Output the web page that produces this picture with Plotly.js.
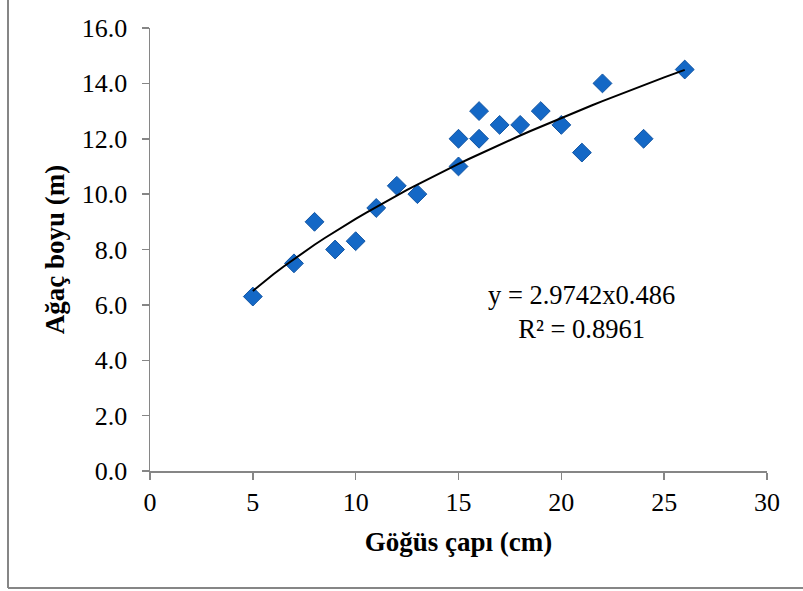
<!DOCTYPE html>
<html>
<head>
<meta charset="utf-8">
<script src="https://cdn.plot.ly/plotly-3.0.1.min.js"></script>
<style>html,body{margin:0;padding:0;background:#fff;}#chart{width:803px;height:591px;}</style>
</head>
<body>
<div id="chart"></div>
<script>
// Data
var diameter = [5, 7, 8, 9, 10, 11, 12, 13, 15, 15, 16, 16, 17, 18, 19, 20, 21, 22, 24, 26];
var height   = [6.3, 7.5, 9.0, 8.0, 8.3, 9.5, 10.3, 10.0, 12.0, 11.0, 13.0, 12.0, 12.5, 12.5, 13.0, 12.5, 11.5, 14.0, 12.0, 14.5];
// Power trendline as printed on the chart: y = a * x^b
var trendA = 2.9742;
var trendB = 0.486;
var trendX = [];
for (var i = 0; i <= 42; i++) trendX.push(5 + i * 0.5);
var trendY = trendX.map(function (x) { return trendA * Math.pow(x, trendB); });

var xTickVals = [0, 5, 10, 15, 20, 25, 30];
var yTickVals = [0, 2, 4, 6, 8, 10, 12, 14, 16];

var font = '"Liberation Serif", "Times New Roman", Times, serif';
var axisColor = '#868686';

var traces = [
  {
    x: diameter, y: height, type: 'scatter', mode: 'markers',
    marker: { symbol: 'diamond', size: 14.5, color: '#1468C6', line: { color: '#1255A3', width: 1 } },
    hoverinfo: 'x+y'
  },
  {
    x: trendX, y: trendY, type: 'scatter', mode: 'lines',
    line: { color: '#000000', width: 2 }, hoverinfo: 'skip'
  }
];

var layout = {
  width: 803, height: 591,
  margin: { l: 150, r: 36, t: 28, b: 120 },
  paper_bgcolor: '#ffffff', plot_bgcolor: '#ffffff',
  showlegend: false,
  font: { family: font, color: '#000000', size: 26 },
  xaxis: {
    range: [0, 30], tickvals: xTickVals, ticktext: xTickVals.map(String),
    showgrid: false, zeroline: false, showline: true, linecolor: axisColor, linewidth: 1.5,
    ticks: 'outside', ticklen: 7, tickcolor: axisColor, tickwidth: 1.5,
    tickfont: { family: font, size: 26, color: '#000' },
    title: { text: '<b>Göğüs çapı (cm)</b>', font: { family: font, size: 27, color: '#000' }, standoff: 16 }
  },
  yaxis: {
    range: [0, 16], tickvals: yTickVals, ticktext: yTickVals.map(function (v) { return v.toFixed(1); }),
    showgrid: false, zeroline: false, showline: true, linecolor: axisColor, linewidth: 1.5,
    ticks: 'outside', ticklen: 7, tickcolor: axisColor, tickwidth: 1.5, ticklabelstandoff: 9,
    tickfont: { family: font, size: 26, color: '#000' },
    title: { text: '<b>Ağaç boyu (m)</b>', font: { family: font, size: 27, color: '#000' }, standoff: 9 }
  },
  annotations: [
    { xref: 'x', yref: 'y', x: 21.0, y: 5.75, text: 'y = 2.9742x0.486<br>R² = 0.8961',
      showarrow: false, align: 'center', font: { family: font, size: 26.5, color: '#000' } }
  ],
  shapes: [
    { type: 'line', xref: 'paper', yref: 'paper', x0: (8 - 150) / 617, x1: (8 - 150) / 617, y0: (471 - 588) / 443, y1: 1.2, line: { color: axisColor, width: 2 } },
    { type: 'line', xref: 'paper', yref: 'paper', x0: (8 - 150) / 617, x1: 1.2, y0: (471 - 588) / 443, y1: (471 - 588) / 443, line: { color: axisColor, width: 2 } }
  ]
};

Plotly.newPlot('chart', traces, layout, { displayModeBar: false, staticPlot: true });
</script>
</body>
</html>
